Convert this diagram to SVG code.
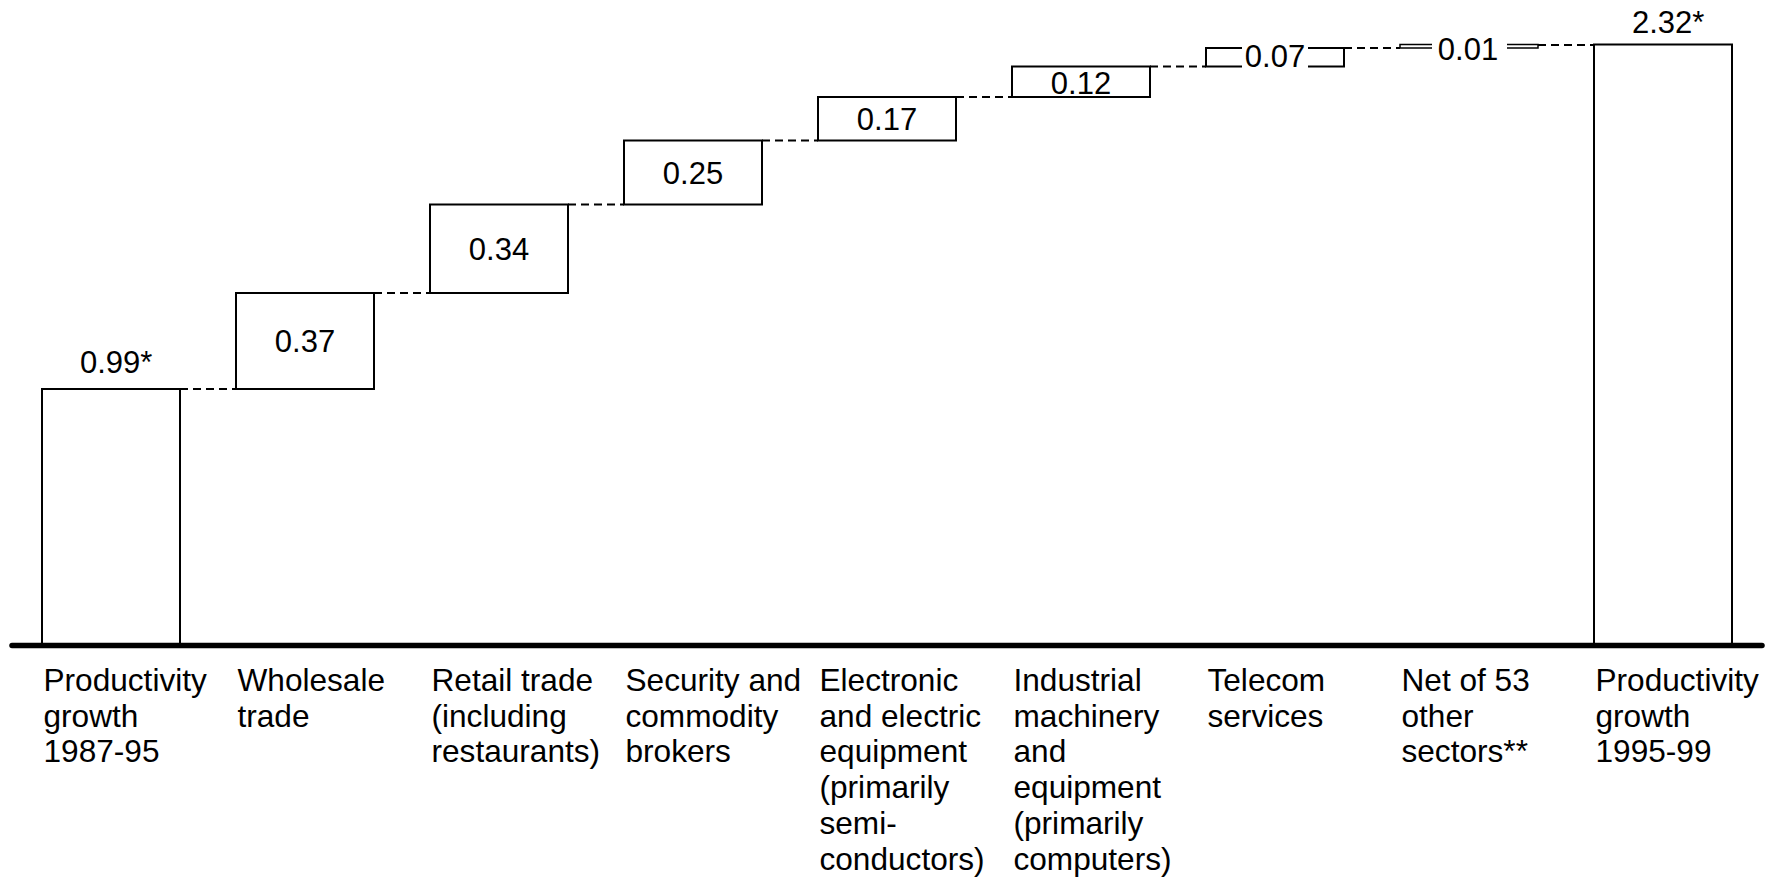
<svg xmlns="http://www.w3.org/2000/svg" width="1776" height="878" viewBox="0 0 1776 878">
<style>
text{font-family:"Liberation Sans",Arial,sans-serif;font-size:31px;fill:#000}
text.cat{font-size:31.6px}
.box{fill:#fff;stroke:#000;stroke-width:2}
.thin{fill:#fff;stroke:#000;stroke-width:1.5}
.val{text-anchor:middle}
.dash{stroke:#000;stroke-width:2.2;stroke-dasharray:8 5;fill:none}
.axis{stroke:#000;stroke-width:5.5;stroke-linecap:round}
.bg{fill:#fff}
</style>
<rect width="1776" height="878" fill="#fff"/>
<g id="connectors">
<line class="dash" x1="180" y1="389" x2="236" y2="389"/>
<line class="dash" x1="374" y1="293" x2="430" y2="293"/>
<line class="dash" x1="568" y1="204.5" x2="624" y2="204.5"/>
<line class="dash" x1="762" y1="140.5" x2="818" y2="140.5"/>
<line class="dash" x1="956" y1="97" x2="1012" y2="97"/>
<line class="dash" x1="1150" y1="66.5" x2="1206" y2="66.5"/>
<line class="dash" x1="1344" y1="48" x2="1400" y2="48"/>
<line class="dash" x1="1538" y1="45" x2="1594" y2="45"/>
</g>
<g id="n0">
<rect class="box" x="42" y="389" width="138" height="256"/>
<text x="80" y="373">0.99*</text>
<text class="cat" x="43.5" y="691">Productivity<tspan x="43.5" y="726.7">growth</tspan><tspan x="43.5" y="762.4">1987-95</tspan></text>
</g>
<g id="n1">
<rect class="box" x="236" y="293" width="138" height="96"/>
<text class="val" x="305" y="352">0.37</text>
<text class="cat" x="237.5" y="691">Wholesale<tspan x="237.5" y="726.7">trade</tspan></text>
</g>
<g id="n2">
<rect class="box" x="430" y="204.5" width="138" height="88.5"/>
<text class="val" x="499" y="259.5">0.34</text>
<text class="cat" x="431.5" y="691">Retail trade<tspan x="431.5" y="726.7">(including</tspan><tspan x="431.5" y="762.4">restaurants)</tspan></text>
</g>
<g id="n3">
<rect class="box" x="624" y="140.5" width="138" height="64"/>
<text class="val" x="693" y="183.5">0.25</text>
<text class="cat" x="625.5" y="691">Security and<tspan x="625.5" y="726.7">commodity</tspan><tspan x="625.5" y="762.4">brokers</tspan></text>
</g>
<g id="n4">
<rect class="box" x="818" y="97" width="138" height="43.5"/>
<text class="val" x="887" y="129.5">0.17</text>
<text class="cat" x="819.5" y="691">Electronic<tspan x="819.5" y="726.7">and electric</tspan><tspan x="819.5" y="762.4">equipment</tspan><tspan x="819.5" y="798.1">(primarily</tspan><tspan x="819.5" y="833.8">semi-</tspan><tspan x="819.5" y="869.5">conductors)</tspan></text>
</g>
<g id="n5">
<rect class="box" x="1012" y="66.5" width="138" height="30.5"/>
<text class="val" x="1081" y="93.5">0.12</text>
<text class="cat" x="1013.5" y="691">Industrial<tspan x="1013.5" y="726.7">machinery</tspan><tspan x="1013.5" y="762.4">and</tspan><tspan x="1013.5" y="798.1">equipment</tspan><tspan x="1013.5" y="833.8">(primarily</tspan><tspan x="1013.5" y="869.5">computers)</tspan></text>
</g>
<g id="n6">
<rect class="box" x="1206" y="48" width="138" height="18.5"/>
<rect class="bg" x="1242" y="44" width="66" height="26"/>
<text class="val" x="1275" y="66.7">0.07</text>
<text class="cat" x="1207.5" y="691">Telecom<tspan x="1207.5" y="726.7">services</tspan></text>
</g>
<g id="n7">
<rect class="thin" x="1400" y="44.5" width="138" height="3.5"/>
<rect class="bg" x="1432" y="38" width="75" height="16"/>
<text class="val" x="1468" y="60">0.01</text>
<text class="cat" x="1401.5" y="691">Net of 53<tspan x="1401.5" y="726.7">other</tspan><tspan x="1401.5" y="762.4">sectors**</tspan></text>
</g>
<g id="n8">
<rect class="box" x="1594" y="44.5" width="138" height="600.5"/>
<text x="1632" y="33">2.32*</text>
<text class="cat" x="1595.5" y="691">Productivity<tspan x="1595.5" y="726.7">growth</tspan><tspan x="1595.5" y="762.4">1995-99</tspan></text>
</g>
<line id="axis" class="axis" x1="12" y1="645.5" x2="1762" y2="645.5"/>
</svg>
